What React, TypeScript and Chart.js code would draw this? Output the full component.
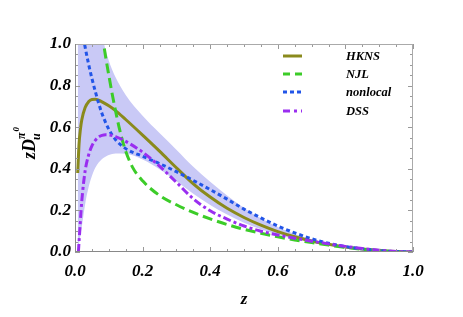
import React, { useEffect, useRef } from "react";
import { Chart, registerables } from "chart.js";

Chart.register(...registerables);

// ---- data ----
const hknsZ = [0.008, 0.012, 0.016, 0.02, 0.03, 0.04, 0.05, 0.06, 0.07, 0.08, 0.1, 0.12, 0.15, 0.2, 0.25, 0.3, 0.35, 0.4, 0.45, 0.5, 0.55, 0.6, 0.65, 0.7, 0.75, 0.8, 0.85, 0.9, 0.95, 1.0];
const hknsV = [0.38, 0.52, 0.59, 0.635, 0.695, 0.722, 0.733, 0.734, 0.73, 0.722, 0.703, 0.68, 0.637, 0.562, 0.485, 0.405, 0.328, 0.264, 0.21, 0.166, 0.129, 0.098, 0.073, 0.053, 0.037, 0.024, 0.014, 0.007, 0.002, 0];

const njlZ = [0.08, 0.09, 0.1, 0.11, 0.12, 0.13, 0.14, 0.15, 0.17, 0.2, 0.25, 0.3, 0.35, 0.4, 0.45, 0.5, 0.55, 0.6, 0.65, 0.7, 0.75, 0.8, 0.85, 0.9, 0.95, 1.0];
const njlV = [1.05, 0.945, 0.85, 0.76, 0.678, 0.603, 0.538, 0.485, 0.408, 0.342, 0.272, 0.227, 0.19, 0.159, 0.132, 0.109, 0.09, 0.073, 0.058, 0.045, 0.033, 0.022, 0.013, 0.006, 0.002, 0];

const nonlocalZ = [0.025, 0.03, 0.04, 0.05, 0.06, 0.07, 0.08, 0.1, 0.12, 0.15, 0.2, 0.25, 0.3, 0.35, 0.4, 0.45, 0.5, 0.55, 0.6, 0.65, 0.7, 0.75, 0.8, 0.85, 0.9, 0.95, 1.0];
const nonlocalV = [1.03, 0.985, 0.905, 0.835, 0.772, 0.715, 0.665, 0.59, 0.54, 0.497, 0.46, 0.425, 0.386, 0.344, 0.3, 0.254, 0.206, 0.164, 0.125, 0.092, 0.064, 0.042, 0.026, 0.015, 0.007, 0.002, 0];

const dssZ = [0.01, 0.014, 0.018, 0.022, 0.03, 0.04, 0.05, 0.06, 0.07, 0.08, 0.09, 0.1, 0.12, 0.15, 0.2, 0.25, 0.3, 0.35, 0.4, 0.45, 0.5, 0.55, 0.6, 0.65, 0.7, 0.75, 0.8, 0.85, 0.9, 0.95, 1.0];
const dssV = [0.0, 0.1, 0.2, 0.28, 0.39, 0.465, 0.51, 0.537, 0.553, 0.561, 0.564, 0.563, 0.555, 0.532, 0.48, 0.413, 0.335, 0.256, 0.198, 0.158, 0.125, 0.1, 0.082, 0.066, 0.052, 0.039, 0.027, 0.017, 0.009, 0.003, 0];

const bandZ = [0.008, 0.02, 0.03, 0.04, 0.05, 0.06, 0.08, 0.09, 0.1, 0.12, 0.15, 0.2, 0.25, 0.3, 0.35, 0.4, 0.45, 0.5, 0.55, 0.6, 0.65, 0.7, 0.75, 0.8, 0.85, 0.9, 0.95, 1.0];
const bandUpperV = [1.6, 1.5, 1.42, 1.34, 1.25, 1.17, 1.04, 0.975, 0.92, 0.84, 0.755, 0.655, 0.572, 0.492, 0.41, 0.338, 0.272, 0.212, 0.162, 0.12, 0.087, 0.061, 0.042, 0.027, 0.016, 0.008, 0.003, 0];
const bandLowerV = [0.0, 0.12, 0.23, 0.31, 0.365, 0.405, 0.447, 0.458, 0.466, 0.474, 0.472, 0.445, 0.398, 0.34, 0.28, 0.226, 0.18, 0.141, 0.109, 0.083, 0.062, 0.046, 0.033, 0.022, 0.013, 0.006, 0.002, 0];

const xTicks = [0, 0.2, 0.4, 0.6, 0.8, 1.0];
const yTicks = [0, 0.2, 0.4, 0.6, 0.8, 1.0];

const legendLabels = ["HKNS", "NJL", "nonlocal", "DSS"];

const FONT = "'Liberation Serif', 'DejaVu Serif', serif";

const pts = (zs: number[], vs: number[]) => zs.map((z, i) => ({ x: z, y: vs[i] }));

const series = [
  { label: "HKNS", z: hknsZ, v: hknsV, color: "#8a8a1c", dash: [] as number[], legendDash: [] as number[], order: 4 },
  { label: "NJL", z: njlZ, v: njlV, color: "#3ccc28", dash: [10, 5], legendDash: [7, 5], order: 3 },
  { label: "nonlocal", z: nonlocalZ, v: nonlocalV, color: "#2255e8", dash: [4, 3], legendDash: [4, 3], order: 2 },
  { label: "DSS", z: dssZ, v: dssV, color: "#9a2ef0", dash: [8, 3, 3, 3], legendDash: [7, 4, 3, 4], order: 1 },
];

const framePlugin = {
  id: "frame",
  afterDatasetsDraw(chart: any) {
    const { ctx, chartArea, scales } = chart;
    const { left, right, top, bottom } = chartArea;
    const x = scales.x;
    const y = scales.y;
    ctx.save();
    ctx.lineWidth = 1;
    ctx.strokeStyle = "#999";
    for (let i = 0; i <= 20; i++) {
      const v = i * 0.05;
      const len = i % 4 === 0 ? 5 : 3;
      const px = Math.round(x.getPixelForValue(v)) + 0.5;
      ctx.beginPath();
      ctx.moveTo(px, bottom);
      ctx.lineTo(px, bottom - len);
      ctx.moveTo(px, top);
      ctx.lineTo(px, top + len);
      ctx.stroke();
      const py = Math.round(y.getPixelForValue(v)) + 0.5;
      ctx.beginPath();
      ctx.moveTo(left, py);
      ctx.lineTo(left + len, py);
      ctx.moveTo(right, py);
      ctx.lineTo(right - len, py);
      ctx.stroke();
    }
    ctx.strokeStyle = "#aaa";
    ctx.beginPath();
    ctx.moveTo(left, Math.round(top) + 0.5);
    ctx.lineTo(right, Math.round(top) + 0.5);
    ctx.moveTo(Math.round(right) - 0.5, top);
    ctx.lineTo(Math.round(right) - 0.5, bottom);
    ctx.stroke();
    ctx.strokeStyle = "#888";
    ctx.beginPath();
    ctx.moveTo(Math.round(left) + 0.5, top);
    ctx.lineTo(Math.round(left) + 0.5, bottom);
    ctx.moveTo(left, Math.round(bottom) - 0.5);
    ctx.lineTo(right, Math.round(bottom) - 0.5);
    ctx.stroke();

    // legend
    const rows = [56, 74, 92, 111];
    series.forEach((s, i) => {
      ctx.save();
      ctx.strokeStyle = s.color;
      ctx.lineWidth = 3;
      ctx.setLineDash(s.legendDash);
      ctx.beginPath();
      ctx.moveTo(283, rows[i]);
      ctx.lineTo(302, rows[i]);
      ctx.stroke();
      ctx.restore();
      ctx.fillStyle = "#000";
      ctx.font = `italic bold 12.5px ${FONT}`;
      ctx.textAlign = "left";
      ctx.textBaseline = "middle";
      ctx.fillText(legendLabels[i], 346, rows[i] + 1);
    });

    // y-axis title: z D_u^{pi^0}
    ctx.save();
    ctx.translate(35, 142);
    ctx.rotate(-Math.PI / 2);
    ctx.fillStyle = "#000";
    ctx.textBaseline = "alphabetic";
    ctx.textAlign = "left";
    ctx.font = `italic bold 18px ${FONT}`;
    const main = "zD";
    const mw = ctx.measureText(main).width;
    const start = -17;
    ctx.fillText(main, start, 0);
    ctx.font = `italic bold 12px ${FONT}`;
    ctx.fillText("u", start + mw - 1, 5);
    ctx.fillText("\u03c0", start + mw, -10);
    const pw = ctx.measureText("\u03c0").width;
    ctx.font = `italic bold 9px ${FONT}`;
    ctx.fillText("0", start + mw + pw + 1, -16);
    ctx.restore();

    ctx.restore();
  },
};

export default function App() {
  const ref = useRef<HTMLCanvasElement | null>(null);
  useEffect(() => {
    if (!ref.current) return;
    const datasets: any[] = [
      {
        label: "band-upper",
        data: pts(bandZ, bandUpperV),
        borderWidth: 0,
        pointRadius: 0,
        backgroundColor: "#c9c9f6",
        fill: "+1",
        cubicInterpolationMode: "monotone",
        order: 10,
      },
      {
        label: "band-lower",
        data: pts(bandZ, bandLowerV),
        borderWidth: 0,
        pointRadius: 0,
        fill: false,
        cubicInterpolationMode: "monotone",
        order: 11,
      },
      ...series.map((s) => ({
        label: s.label,
        data: pts(s.z, s.v),
        borderColor: s.color,
        borderWidth: 3,
        borderDash: s.dash,
        pointRadius: 0,
        fill: false,
        cubicInterpolationMode: "monotone",
        order: s.order,
      })),
    ];
    const chart = new Chart(ref.current, {
      type: "line",
      data: { datasets },
      options: {
        animation: false,
        responsive: false,
        devicePixelRatio: 1,
        layout: { padding: { left: 0, right: 50, top: 44, bottom: 0 } },
        plugins: { legend: { display: false }, tooltip: { enabled: false } },
        scales: {
          x: {
            type: "linear",
            min: 0,
            max: 1,
            grid: { display: false, drawTicks: false },
            border: { display: false },
            afterFit: (s: any) => {
              s.height = 65;
            },
            afterBuildTicks: (s: any) => {
              s.ticks = xTicks.map((v) => ({ value: v }));
            },
            ticks: {
              padding: 9,
              color: "#000",
              font: { family: FONT, size: 17, style: "italic", weight: "bold" },
              callback: (v: any) => Number(v).toFixed(1),
              maxRotation: 0,
            },
            title: {
              display: true,
              text: "z",
              color: "#000",
              font: { family: FONT, size: 17, style: "italic", weight: "bold" },
              padding: { top: 0, bottom: 7 },
            },
          },
          y: {
            type: "linear",
            min: 0,
            max: 1,
            grid: { display: false, drawTicks: false },
            border: { display: false },
            afterFit: (s: any) => {
              s.width = 75;
            },
            afterBuildTicks: (s: any) => {
              s.ticks = yTicks.map((v) => ({ value: v }));
            },
            ticks: {
              padding: 4,
              color: "#000",
              font: { family: FONT, size: 17, style: "italic", weight: "bold" },
              callback: (v: any) => Number(v).toFixed(1),
            },
          },
        },
      },
      plugins: [framePlugin],
    });
    return () => chart.destroy();
  }, []);
  return (
    <canvas
      ref={ref}
      width={463}
      height={317}
      style={{ position: "absolute", left: 0, top: 0, width: 463, height: 317, background: "#fff" }}
    />
  );
}
